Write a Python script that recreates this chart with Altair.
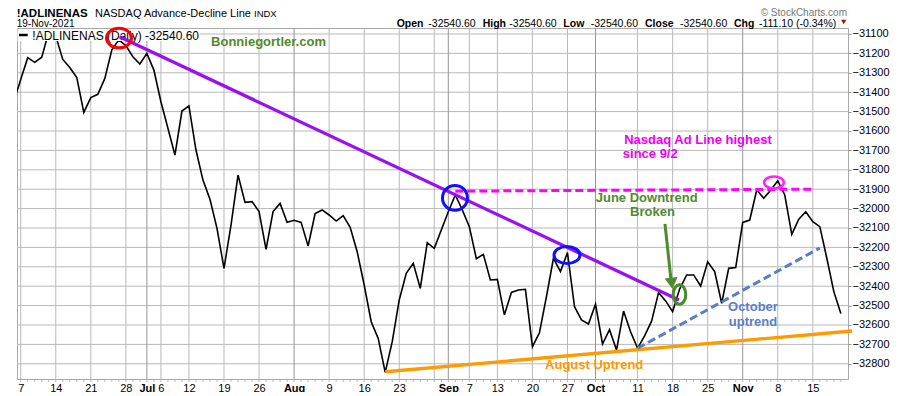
import altair as alt
import pandas as pd

# ---------------- data (trading-day index: 0 = Mon Jun 7 2021) ----------------
day = list(range(-1, 118))
adl = [-31450, -31335, -31222, -31246, -31220, -31090, -31110, -31231, -31273, -31325,
       -31504, -31428, -31411, -31329, -31182, -31130, -31160, -31217, -31255, -31200,
       -31286, -31449, -31586, -31724, -31497, -31471, -31698, -31853, -31952, -32102,
       -32308, -32085, -31827, -31968, -31964, -32015, -32210, -32015, -31973, -32071,
       -32060, -32071, -32193, -32026, -32007, -32033, -32064, -32036, -32096, -32222,
       -32394, -32583, -32669, -32844, -32686, -32471, -32334, -32282, -32411, -32176,
       -32205, -32110, -32016, -31930, -32007, -32093, -32258, -32236, -32368, -32365,
       -32548, -32432, -32420, -32416, -32712, -32640, -32454, -32256, -32325, -32227,
       -32505, -32574, -32595, -32493, -32698, -32624, -32729, -32528, -32635, -32720,
       -32656, -32580, -32432, -32476, -32531, -32415, -32342, -32342, -32399, -32274,
       -32325, -32488, -32308, -32304, -32071, -32059, -31904, -31947, -31904, -31856,
       -31930, -32133, -32055, -32016, -32067, -32093, -32256, -32428, -32540.6]

tick_idx = [0, 5, 10, 15, 18, 20, 24, 29, 34, 39, 44, 49, 54, 61, 64, 68, 73, 78, 82, 88,
            93, 98, 103, 108, 113]
tick_lab = ["7", "14", "21", "28", "Jul", "6", "12", "19", "26", "Aug", "9", "16", "23",
            "Sep", "7", "13", "20", "27", "Oct", "11", "18", "25", "Nov", "8", "15"]
month_idx = [18, 39, 61, 82, 103]
extra_grid_idx = [59]
y_ticks = list(range(-32800, -31000, 100))

# trend lines (index, value)
purple_x = [14.1, 93.9]
purple_v = [-31114, -32471]
orange_x = [52.0, 118.6]
orange_v = [-32841, -32631]
magenta_x = [62.0, 113.0]
magenta_v = [-31910, -31900]
blue_x = [88.0, 114.0]
blue_v = [-32720, -32203]

# ellipses: centre index, value, width px, height px, colour, stroke width
ell_x = [14.02, 61.95, 77.93, 93.98, 107.46]
ell_v = [-31121, -31945, -32239, -32443, -31865]
ell_w = [25, 25, 26, 12.6, 19.6]
ell_h = [19.6, 24.7, 17, 19.4, 12]
ell_c = ["#ff0000", "#1010ff", "#1010ff", "#4a8a2a", "#ff22ff"]
ell_sw = [3, 3, 3, 3, 2.5]

# arrow
arrow_x = [91.91, 92.77]
arrow_v = [-32079, -32368]
arrow_head_x = [92.88]
arrow_head_v = [-32385]

# annotation texts
GREEN = "#4f8a2b"
MAGENTA = "#ee00ee"
BLUE = "#5a7dc8"
ORANGE = "#ff9a00"
ann_text = ["Bonniegortler.com", "Nasdaq Ad Line highest", "since 9/2", "June Downtrend",
            "Broken", "October", "uptrend", "August Uptrend"]
ann_x = [35.35, 96.62, 89.81, 89.30, 90.13, 104.46, 104.46, 81.81]
ann_v = [-31141, -31644, -31721, -31945, -32018, -32507, -32583, -32806]
ann_c = [GREEN, MAGENTA, MAGENTA, GREEN, GREEN, BLUE, BLUE, ORANGE]

FONT = "Liberation Sans"

# ---------------- scales / axes ----------------
xs = alt.Scale(domain=[-0.53, 118.02], nice=False, zero=False)
ys = alt.Scale(domain=[-32878.4, -31069.1], nice=False, zero=False)

label_expr = ("[" + ",".join(f"'{t}'" for t in tick_lab) + "][indexof(["
              + ",".join(str(i) for i in tick_idx) + "], datum.value)]")
bold_test = "indexof([" + ",".join(str(i) for i in month_idx) + "], datum.value) >= 0"

xaxis = alt.Axis(orient="bottom", values=tick_idx, labelExpr=label_expr,
                 labelFontWeight={"condition": {"test": bold_test, "value": "bold"}, "value": "normal"},
                 labelFont=FONT, labelFontSize=11, labelColor="#000", tickSize=0,
                 labelPadding=3, domain=False, grid=False, labelFlush=False,
                 labelOverlap=False, title=None)
yaxis = alt.Axis(orient="right", values=y_ticks, format="d", labelFont=FONT,
                 labelFontSize=11, labelColor="#000", tickColor="#999", tickSize=3,
                 labelPadding=1, domain=False, grid=False,
                 labelFlush=False, labelOverlap=False, title=None)

def X(f):
    return alt.X(f"{f}:Q", scale=xs, axis=xaxis, title=None)

def Y(f):
    return alt.Y(f"{f}:Q", scale=ys, axis=yaxis, title=None)

# ---------------- layers ----------------
hgrid = alt.Chart(pd.DataFrame({"v": y_ticks})).mark_rule(
    color="#b9b9b9", strokeWidth=1).encode(y=Y("v"))

grid_df = pd.DataFrame({"i": tick_idx + extra_grid_idx})
grid_df["col"] = ["#959595" if i in month_idx else "#b9b9b9" for i in grid_df["i"]]
vgrid = alt.Chart(grid_df).mark_rule(strokeWidth=1).encode(
    x=X("i"), color=alt.Color("col:N", scale=None))

# small daily ticks under the bottom border
day_ticks = alt.Chart(pd.DataFrame({"i": [d for d in day if d >= 0]})).mark_rule(
    color="#bbbbbb", strokeWidth=1).encode(x=X("i"), y=alt.value(352), y2=alt.value(354))

main_df = pd.DataFrame({"i": day, "v": adl})
line = alt.Chart(main_df).mark_line(color="#000", strokeWidth=1.6, clip=True).encode(
    x=X("i"), y=Y("v"))

one = pd.DataFrame({"t": ["!ADLINENAS (Daily) -32540.60"]})
legend_bg = alt.Chart(one).mark_rect(color="white").encode(
    x=alt.value(0.5), x2=alt.value(183), y=alt.value(1), y2=alt.value(13))
legend_dash = alt.Chart(one).mark_rule(color="#000", strokeWidth=2.5).encode(
    x=alt.value(2), x2=alt.value(10.7), y=alt.value(7))
legend_txt = alt.Chart(one).mark_text(font=FONT, fontSize=12, align="left",
                                      baseline="alphabetic", color="#000").encode(
    x=alt.value(15.3), y=alt.value(12), text="t:N")

def seg(xv, vv, color, width, dash=None):
    df = pd.DataFrame({"i": xv, "v": vv})
    kw = dict(color=color, strokeWidth=width, strokeCap="butt")
    if dash:
        kw["strokeDash"] = dash
    return alt.Chart(df).mark_line(**kw).encode(x=X("i"), y=Y("v"))

orange = seg(orange_x, orange_v, ORANGE, 3.3)
purple = seg(purple_x, purple_v, "#9a10f0", 3.3)
magenta = seg(magenta_x, magenta_v, "#ff00ff", 3, [8, 4])
blue = seg(blue_x, blue_v, BLUE, 3, [8, 4])

def ell_path(w, h):
    if w >= h:
        k = h / w
        return f"M-1,0A1,{k:.3f},0,1,0,1,0A1,{k:.3f},0,1,0,-1,0Z", w * w
    k = w / h
    return f"M-{k:.3f},0A{k:.3f},1,0,1,0,{k:.3f},0A{k:.3f},1,0,1,0,-{k:.3f},0Z", h * h

paths, sizes = zip(*[ell_path(w, h) for w, h in zip(ell_w, ell_h)])
ell_df = pd.DataFrame({"i": ell_x, "v": ell_v, "p": paths, "s": sizes,
                       "c": ell_c, "sw": ell_sw})
ellipses = alt.Chart(ell_df).mark_point(filled=False, opacity=1).encode(
    x=X("i"), y=Y("v"), shape=alt.Shape("p:N", scale=None),
    size=alt.Size("s:Q", scale=None), color=alt.Color("c:N", scale=None),
    strokeWidth=alt.StrokeWidth("sw:Q", scale=None))

arrow = seg(arrow_x, arrow_v, GREEN, 3)
arrow_head = alt.Chart(pd.DataFrame({"i": arrow_head_x, "v": arrow_head_v})).mark_point(
    shape="triangle-down", filled=True, color=GREEN, size=170, angle=353, opacity=1).encode(
    x=X("i"), y=Y("v"))

ann_df = pd.DataFrame({"i": ann_x, "v": ann_v, "t": ann_text, "c": ann_c})
ann = alt.Chart(ann_df).mark_text(font=FONT, fontSize=13, fontWeight="bold",
                                  align="center", baseline="middle").encode(
    x=X("i"), y=Y("v"), text="t:N", color=alt.Color("c:N", scale=None))

# ---------------- header ----------------
def htext(txt, px, py, size, weight="normal", color="#000", align="left"):
    return alt.Chart(pd.DataFrame({"t": [txt]})).mark_text(
        font=FONT, fontSize=size, fontWeight=weight, color=color, align=align,
        baseline="alphabetic").encode(x=alt.value(px), y=alt.value(py), text="t:N")

header = [
    htext("!ADLINENAS", -0.3, -11, 11.5, "bold"),
    htext("NASDAQ Advance-Decline Line", 78, -11, 11),
    htext("INDX", 237, -11, 9.5),
    htext("\u00a9 StockCharts.com", 830, -12, 10, color="#777777", align="right"),
    htext("19-Nov-2021", -0.3, -1, 10),
    htext("Open", 379.7, -1.5, 10.5, "bold"),
    htext("-32540.60", 411.3, -1.5, 10.5),
    htext("High", 465.7, -1.5, 10.5, "bold"),
    htext("-32540.60", 492.3, -1.5, 10.5),
    htext("Low", 546.3, -1.5, 10.5, "bold"),
    htext("-32540.60", 573.7, -1.5, 10.5),
    htext("Close", 628, -1.5, 10.5, "bold"),
    htext("-32540.60", 663, -1.5, 10.5),
    htext("Chg", 717, -1.5, 10.5, "bold"),
    htext("-111.10 (-0.34%)", 742, -1.5, 10.5),
]
tri = alt.Chart(pd.DataFrame({"t": ["down"]})).mark_point(
    shape="triangle-down", filled=True, color="#8b1a1a", size=28, opacity=1).encode(
    x=alt.value(826.7), y=alt.value(-6))

chart = alt.layer(
    hgrid, vgrid, day_ticks, line, legend_bg, legend_dash, legend_txt,
    orange, purple, magenta, blue, ellipses, arrow, arrow_head, ann,
    *header, tri
).properties(
    width=831, height=351,
    padding={"left": 9, "top": 20, "right": 44, "bottom": 13},
    autosize="none", background="white"
).configure_view(stroke="#a9a9a9", strokeWidth=1)

chart.save("out.html", embed_options={"renderer": "svg", "actions": False})
